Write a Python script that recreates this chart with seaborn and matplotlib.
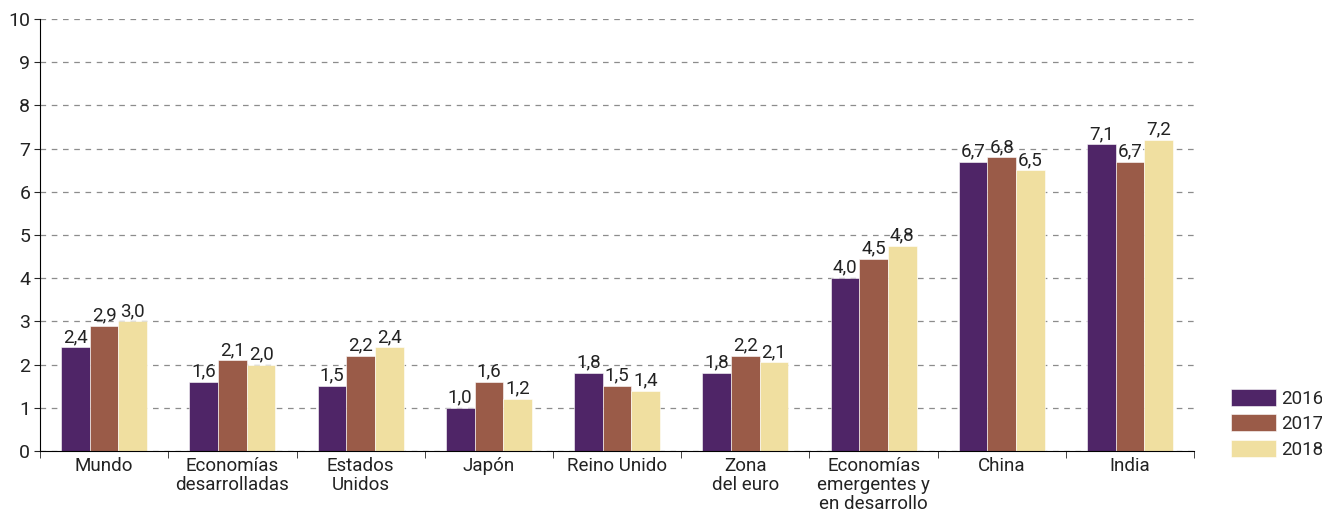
import numpy as np
import pandas as pd
import seaborn as sns
import matplotlib.pyplot as plt
from matplotlib.ticker import FixedLocator

categorias = ["Mundo", "Economías\ndesarrolladas", "Estados\nUnidos", "Japón", "Reino Unido",
              "Zona\ndel euro", "Economías\nemergentes y\nen desarrollo", "China", "India"]
anios = ["2016", "2017", "2018"]
v2016 = [2.4, 1.6, 1.5, 1.0, 1.8, 1.8, 4.0, 6.7, 7.1]
v2017 = [2.9, 2.1, 2.2, 1.6, 1.5, 2.2, 4.45, 6.8, 6.7]
v2018 = [3.0, 2.0, 2.4, 1.2, 1.4, 2.05, 4.75, 6.5, 7.2]
etiquetas = {"2016": ["2,4", "1,6", "1,5", "1,0", "1,8", "1,8", "4,0", "6,7", "7,1"],
             "2017": ["2,9", "2,1", "2,2", "1,6", "1,5", "2,2", "4,5", "6,8", "6,7"],
             "2018": ["3,0", "2,0", "2,4", "1,2", "1,4", "2,1", "4,8", "6,5", "7,2"]}
colores = ["#4f2567", "#9a5b48", "#f0dfa0"]

df = pd.DataFrame({
    "cat": categorias * 3,
    "anio": [a for a in anios for _ in categorias],
    "valor": v2016 + v2017 + v2018,
})

sns.set_style("white")
plt.rcParams['font.family'] = ['Roboto', 'DejaVu Sans']

fig = plt.figure(figsize=(13.22, 5.16), dpi=100)
ax = fig.add_axes([0.0303, 0.126, 0.873, 0.837])
sns.barplot(data=df, x="cat", y="valor", hue="anio", palette=colores,
            width=0.67, edgecolor="white", linewidth=0.4, ax=ax, saturation=1)

for cont, a in zip(ax.containers, anios):
    ax.bar_label(cont, labels=etiquetas[a], padding=1, fontsize=13.5, color="#222222")

ax.set_ylim(0, 10)
ax.set_xlim(-0.5, len(categorias) - 0.5)
ax.set_yticks(range(0, 11))
ax.yaxis.grid(True, linestyle=(0, (4.5, 4.5)), color="#8c8c8c", linewidth=0.9)
ax.set_axisbelow(True)
ax.set_xlabel("")
ax.set_ylabel("")
for s in ["top", "right"]:
    ax.spines[s].set_visible(False)
ax.spines["left"].set_color("black")
ax.spines["bottom"].set_color("black")
ax.tick_params(axis="y", labelsize=14, length=4, direction="out", left=True, pad=3,
               labelcolor="#222222")
ax.tick_params(axis="x", which="major", labelsize=13.5, length=0, pad=4, labelcolor="#222222")
ax.xaxis.set_minor_locator(FixedLocator(np.arange(-0.5, len(categorias), 1)))
ax.tick_params(axis="x", which="minor", length=5, bottom=True, direction="out")
for t in ax.get_xticklabels():
    t.set_linespacing(1.1)

ax.legend(loc="lower left", bbox_to_anchor=(1.025, -0.035), frameon=False, fontsize=13.5,
          handlelength=2.4, handleheight=1.0, handletextpad=0.3, labelspacing=0.35,
          borderaxespad=0)

fig.savefig("out.png", dpi=100)
